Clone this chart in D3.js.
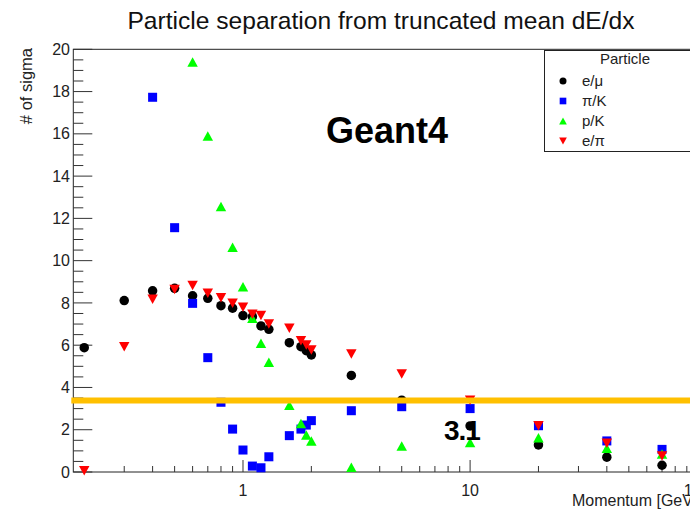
<!DOCTYPE html>
<html>
<head>
<meta charset="utf-8">
<script src="https://cdn.jsdelivr.net/npm/d3@7"></script>
<style>
  html, body { margin: 0; padding: 0; background: #fff; }
  svg { display: block; }
  text { font-family: "Liberation Sans", Arial, sans-serif; }
</style>
</head>
<body>
<svg id="chart" width="690" height="512"></svg>
<script>
// Momentum points (GeV/c)
const momentum = [0.2, 0.3, 0.4, 0.5, 0.6, 0.7, 0.8, 0.9, 1.0, 1.1, 1.2, 1.3, 1.6, 1.8, 1.9, 2.0, 3, 5, 10, 20, 40, 70];
// Separation power in units of sigma (null = outside the plotted range)
const sepEMu = [5.88, 8.11, 8.57, 8.69, 8.34, 8.22, 7.87, 7.75, 7.40, 7.35, 6.91, 6.75, 6.12, 5.93, 5.74, 5.54, 4.57, 3.40, 2.18, 1.28, 0.70, 0.32];
const sepPiK = [null, null, 17.73, 11.56, 7.98, 5.41, 3.30, 2.03, 1.04, 0.28, 0.20, 0.72, 1.72, 2.03, 2.22, 2.43, 2.90, 3.09, 3.00, 2.19, 1.47, 1.07];
const sepPK  = [null, null, null, null, 19.40, 15.90, 12.56, 10.63, 8.77, 7.27, 6.09, 5.19, 3.16, 2.30, 1.75, 1.47, 0.22, 1.23, 1.39, 1.62, 1.12, 0.85];
const sepEPi = [0.06, 5.93, 8.17, 8.64, 8.82, 8.46, 8.25, 7.98, 7.79, 7.46, 7.40, 7.00, 6.80, 6.21, 6.01, 5.77, 5.58, 4.64, 3.40, 2.19, 1.36, 0.76];

const seriesNames = ["e/\u03BC", "\u03C0/K", "p/K", "e/\u03C0"];
const seriesColors = ["#000000", "#0000ff", "#00ff00", "#ff0000"];
const seriesShapes = ["circle", "square", "triUp", "triDown"];

const xTickValues = [1, 10, 100];
const yTickValues = [0, 2, 4, 6, 8, 10, 12, 14, 16, 18, 20];
const xDomain = [0.179, 126];
const yDomain = [0, 20];
const thresholdSigma = 3.38;
const thresholdLabel = "3.1";

const svg = d3.select("#chart");

const x = d3.scaleLog().domain(xDomain).range([73.3, 720]);
const y = d3.scaleLinear().domain(yDomain).range([472, 49.3]);

// Title
svg.append("text")
  .attr("x", 381).attr("y", 28.5)
  .attr("text-anchor", "middle")
  .attr("font-size", 24.6)
  .attr("fill", "#111")
  .text("Particle separation from truncated mean dE/dx");

// Frame (top and left/bottom axes)
const frame = svg.append("g").attr("stroke", "#222").attr("stroke-width", 1).attr("fill", "none");
frame.append("rect")
  .attr("x", x(xDomain[0])).attr("y", y(yDomain[1]))
  .attr("width", x(xDomain[1]) - x(xDomain[0]))
  .attr("height", y(yDomain[0]) - y(yDomain[1]));

// Y axis ticks
const yMinor = d3.range(0, 20.001, 0.5);
const yAxisG = svg.append("g").attr("stroke", "#333");
yAxisG.selectAll("line.minor").data(yMinor).join("line")
  .attr("x1", x(xDomain[0])).attr("x2", d => x(xDomain[0]) + (d % 2 === 0 ? 19 : 10))
  .attr("y1", d => y(d)).attr("y2", d => y(d))
  .attr("stroke-width", 1);
svg.append("g").selectAll("text").data(yTickValues).join("text")
  .attr("x", 70).attr("y", d => y(d) + 5.6)
  .attr("text-anchor", "end")
  .attr("font-size", 16)
  .attr("fill", "#222")
  .text(d => d);

// X axis ticks (log)
const xMinor = [];
[0.1, 1, 10].forEach(dec => { for (let k = 2; k <= 9; k++) xMinor.push(dec * k); });
const xAll = xMinor.filter(v => v >= xDomain[0] && v <= xDomain[1]).concat(xTickValues);
svg.append("g").attr("stroke", "#333").selectAll("line").data(xAll).join("line")
  .attr("x1", d => x(d)).attr("x2", d => x(d))
  .attr("y1", y(0)).attr("y2", d => y(0) - (xTickValues.includes(d) ? 12 : 6))
  .attr("stroke-width", 1);
svg.append("g").selectAll("text").data(xTickValues).join("text")
  .attr("x", d => x(d)).attr("y", 496)
  .attr("text-anchor", "middle")
  .attr("font-size", 16)
  .attr("fill", "#222")
  .text(d => d);

// Axis titles
svg.append("text")
  .attr("x", 572).attr("y", 506)
  .attr("font-size", 16)
  .attr("fill", "#222")
  .text("Momentum [GeV/c]");
svg.append("text")
  .attr("transform", "translate(32,48) rotate(-90)")
  .attr("text-anchor", "end")
  .attr("font-size", 16.5)
  .attr("fill", "#222")
  .text("# of sigma");

// Marker path generator, shapes centred on their bounding box
function markerPath(shape, s) {
  const h = s / 2;
  if (shape === "circle") {
    return `M${-h},0A${h},${h} 0 1,0 ${h},0A${h},${h} 0 1,0 ${-h},0Z`;
  }
  if (shape === "square") {
    return `M${-h * 0.95},${-h * 0.95}H${h * 0.95}V${h * 0.95}H${-h * 0.95}Z`;
  }
  if (shape === "triUp") {
    return `M0,${-h}L${h * 1.1},${h}L${-h * 1.1},${h}Z`;
  }
  return `M0,${h}L${h * 1.1},${-h}L${-h * 1.1},${-h}Z`;
}

const seriesValues = [sepEMu, sepPiK, sepPK, sepEPi];
const plot = svg.append("g");
seriesValues.forEach((vals, i) => {
  const pts = momentum.map((m, j) => ({ m, v: vals[j] })).filter(d => d.v !== null);
  plot.append("g").selectAll("path").data(pts).join("path")
    .attr("transform", d => `translate(${x(d.m)},${y(d.v)})`)
    .attr("d", markerPath(seriesShapes[i], 9.5))
    .attr("fill", seriesColors[i]);
});

// Legend
const leg = svg.append("g");
leg.append("rect")
  .attr("x", 544.5).attr("y", 50.5).attr("width", 200).attr("height", 101)
  .attr("fill", "#fff").attr("stroke", "#222").attr("stroke-width", 1);
leg.append("text")
  .attr("x", 625).attr("y", 63.5)
  .attr("text-anchor", "middle")
  .attr("font-size", 15)
  .attr("fill", "#222")
  .text("Particle");
const legY = [81, 101, 121, 141];
seriesNames.forEach((name, i) => {
  leg.append("path")
    .attr("transform", `translate(563,${legY[i]})`)
    .attr("d", markerPath(seriesShapes[i], 7))
    .attr("fill", seriesColors[i]);
  leg.append("text")
    .attr("x", 582).attr("y", legY[i] + 5)
    .attr("font-size", 15)
    .attr("fill", "#222")
    .text(name);
});

// Threshold line
svg.append("line")
  .attr("x1", x(xDomain[0]) - 2).attr("x2", 720)
  .attr("y1", y(thresholdSigma)).attr("y2", y(thresholdSigma))
  .attr("stroke", "#ffc000").attr("stroke-width", 6);

// Annotations
svg.append("text")
  .attr("x", 326).attr("y", 143)
  .attr("font-family", "'Open Sans', sans-serif")
  .attr("font-weight", 700)
  .attr("font-size", 36)
  .attr("fill", "#000")
  .text("Geant4");
svg.append("text")
  .attr("x", 444).attr("y", 440)
  .attr("font-family", "'Open Sans', sans-serif")
  .attr("font-weight", 700)
  .attr("font-size", 28)
  .attr("letter-spacing", -1)
  .attr("fill", "#000")
  .text(thresholdLabel);
</script>
</body>
</html>
